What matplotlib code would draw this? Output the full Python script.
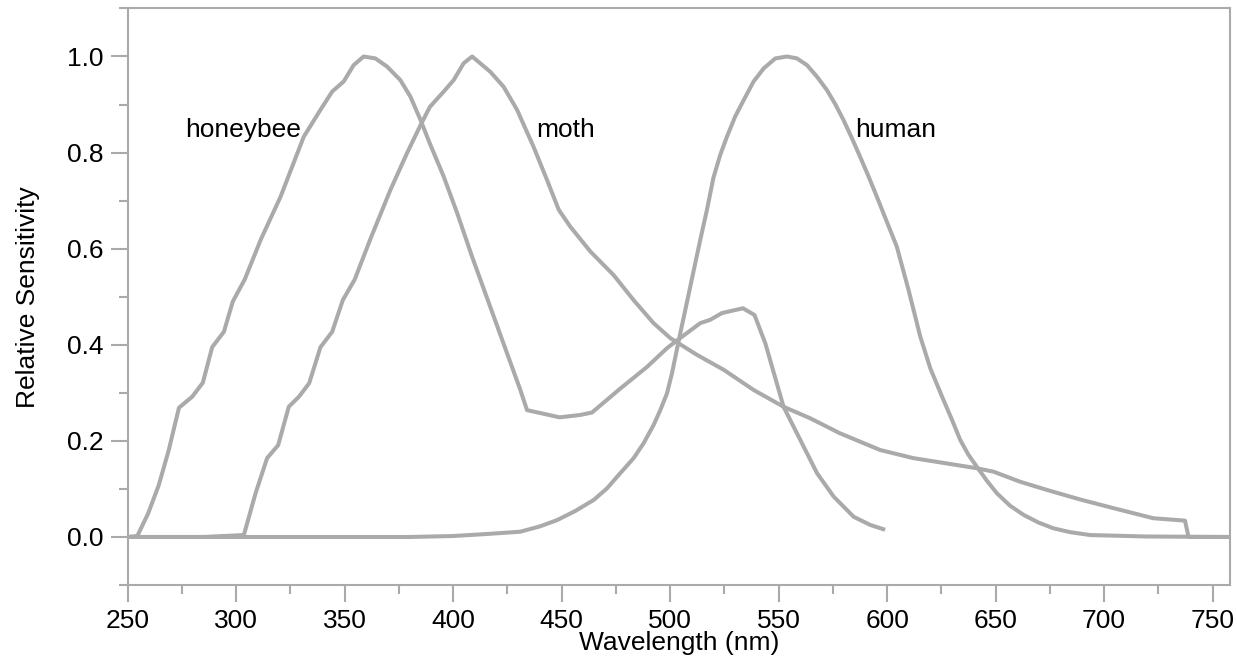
import matplotlib
matplotlib.use("Agg")
import matplotlib.pyplot as plt
from matplotlib.ticker import MultipleLocator, FormatStrFormatter

plt.rcParams["font.family"] = ["Liberation Sans", "DejaVu Sans"]

# spectral sensitivity curves
bee_nm = [250, 254.5, 259.5, 264.4, 269, 273.7, 279.8, 284.7, 289, 294.4, 298.5,
          304, 308.2, 311.3, 320.5, 331.2, 338.9, 344.3, 349.6, 354.2, 358.8,
          364.2, 369.6, 375.7, 380.4, 385, 389.3, 395.7, 401.9, 408.8,
          431, 434.1, 449.1, 458.7, 464, 477.1, 489.4, 498.6, 503.2, 513.9,
          518.5, 523.9, 533.6, 538.9, 543.9, 552.3, 560, 567.7, 575.4,
          584.6, 592.3, 599.1]
bee_val = [0.0, 0.002, 0.049, 0.108, 0.181, 0.269, 0.292, 0.321, 0.395, 0.427,
           0.49, 0.536, 0.583, 0.618, 0.708, 0.833, 0.889, 0.927, 0.948, 0.982,
           1.0, 0.996, 0.979, 0.951, 0.916, 0.868, 0.819, 0.75, 0.674, 0.583,
           0.306, 0.264, 0.249, 0.254, 0.259, 0.309, 0.354, 0.393, 0.409,
           0.445, 0.452, 0.466, 0.476, 0.462, 0.403, 0.271, 0.202, 0.133, 0.084,
           0.042, 0.025, 0.015]

moth_nm = [250, 285, 303.6, 309, 314.3, 319.4, 324.3, 329, 333.7, 338.9, 344.3,
           349.2, 354.7, 361.9, 371.1, 378.8, 385, 389.3, 395.7, 400.3, 404.9,
           408.8, 417.2, 423.3, 429.5, 437.1, 443.3, 448.7, 454, 463.3, 474,
           483.2, 492.4, 500.1, 512.4, 524.7, 538.5, 552.3, 564.6, 578.2, 596.8,
           612.2, 627.6, 641.4, 649, 661.3, 673.6, 689, 704.3, 722.7, 737.3,
           738.9, 758]
moth_val = [0.0, 0.0, 0.004, 0.091, 0.164, 0.191, 0.271, 0.292, 0.32, 0.395,
            0.427, 0.493, 0.536, 0.62, 0.722, 0.799, 0.857, 0.895, 0.927, 0.951,
            0.986, 1.0, 0.968, 0.937, 0.889, 0.812, 0.743, 0.681, 0.646, 0.594,
            0.545, 0.493, 0.445, 0.414, 0.379, 0.348, 0.306, 0.271, 0.247, 0.216,
            0.181, 0.164, 0.153, 0.143, 0.136, 0.115, 0.098, 0.078, 0.06, 0.039,
            0.034, 0.0, 0.0]

human_nm = [250, 380, 400, 415, 431, 440, 447.9, 456.3, 464.8, 470.9, 477.1,
            483.2, 487.8, 492.4, 495.5, 498.6, 500.9, 504.7, 507, 509.3, 513.9,
            517, 520, 523.1, 526.2, 530, 533.9, 538.5, 543.1, 548.5, 553.9,
            558.5, 563.1, 567.7, 572.3, 576.1, 579.9, 583.8, 587.6, 591.5, 595.3,
            599.9, 604.5, 609.9, 615.3, 620, 626, 630, 633.7, 637.5, 641.4, 646,
            650.6, 656.7, 662.9, 669.8, 676.7, 684.4, 693.6, 719.7, 758]
human_val = [0.0, 0.0, 0.002, 0.006, 0.011, 0.022, 0.035, 0.054, 0.077, 0.101,
             0.133, 0.164, 0.195, 0.233, 0.264, 0.299, 0.341, 0.424, 0.472, 0.521,
             0.618, 0.681, 0.748, 0.795, 0.833, 0.875, 0.909, 0.948, 0.975, 0.996,
             1.0, 0.996, 0.982, 0.958, 0.93, 0.901, 0.868, 0.83, 0.791, 0.75,
             0.708, 0.656, 0.604, 0.514, 0.417, 0.35, 0.285, 0.243, 0.202, 0.171,
             0.146, 0.117, 0.091, 0.065, 0.046, 0.03, 0.018, 0.01, 0.004, 0.001,
             0.0]

labels = ["honeybee", "moth", "human"]
label_x = [276.5, 438.5, 585.5]
label_y = [0.847, 0.847, 0.847]

grey = "#aaaaaa"

fig = plt.figure(figsize=(12.37, 6.6), dpi=100)
ax = fig.add_axes([0.1031, 0.1136, 0.8912, 0.8736])

for xs, ys in [(bee_nm, bee_val), (moth_nm, moth_val), (human_nm, human_val)]:
    ax.plot(xs, ys, color=grey, lw=2.9, solid_joinstyle="round",
            solid_capstyle="butt", clip_on=False)

for name, tx, ty in zip(labels, label_x, label_y):
    ax.text(tx, ty, name, fontsize=19, ha="left", va="center", color="black")

ax.set_xlim(250, 758)
ax.set_ylim(-0.1, 1.1)
ax.xaxis.set_major_locator(MultipleLocator(50))
ax.xaxis.set_minor_locator(MultipleLocator(25))
ax.yaxis.set_major_locator(MultipleLocator(0.2))
ax.yaxis.set_minor_locator(MultipleLocator(0.1))
ax.yaxis.set_major_formatter(FormatStrFormatter("%.1f"))

for s in ax.spines.values():
    s.set_color(grey)
    s.set_linewidth(1.5)

ax.tick_params(which="major", length=12, width=1.5, color=grey,
               labelsize=19, labelcolor="black", pad=5)
ax.tick_params(which="minor", length=6.5, width=1.5, color=grey)

ax.set_xlabel("Wavelength (nm)", fontsize=19, labelpad=-1)
ax.set_ylabel("Relative Sensitivity", fontsize=19, labelpad=20)

fig.savefig("out.png", dpi=100)
